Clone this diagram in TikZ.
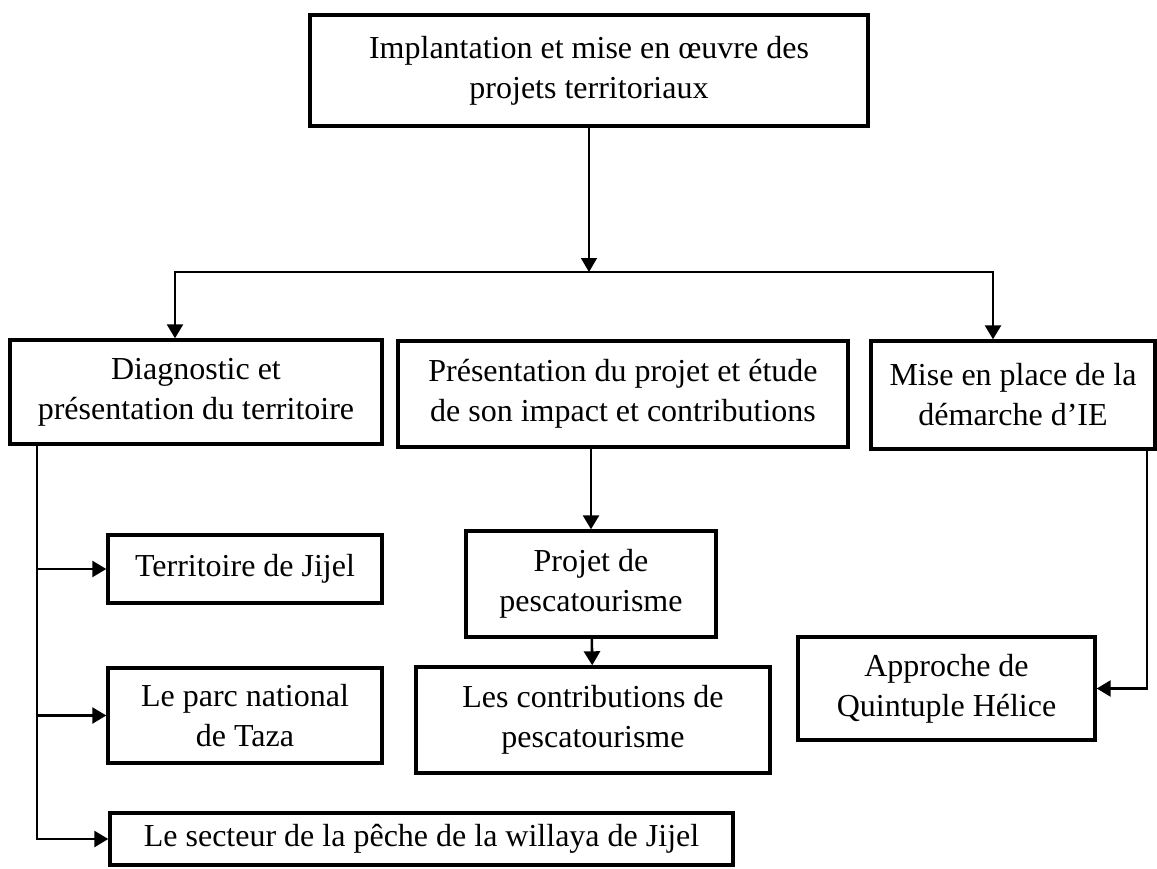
\documentclass[tikz,border=0pt]{standalone}
\usepackage{fontspec}
\setmainfont{Liberation Serif}
\usetikzlibrary{arrows.meta}

\begin{document}
\begin{tikzpicture}[x=1pt,y=-1pt,
    block/.style={draw,line width=3.4pt,align=center,inner sep=0pt,
      font=\fontsize{32}{40}\selectfont},
    conn/.style={line width=2.6pt,-{Triangle[length=14pt,width=16pt]}}]
    \useasboundingbox (0,0) rectangle (1157,868);
    \node[block,minimum width=558pt,minimum height=111pt] (top) at (589,70.5)
      {Implantation et mise en œuvre des\\projets territoriaux};
    \node[block,minimum width=372pt,minimum height=104pt] (diag) at (196,392)
      {Diagnostic et\\présentation du territoire};
    \node[block,minimum width=450pt,minimum height=106pt] (pres) at (623,394)
      {Présentation du projet et étude\\de son impact et contributions};
    \node[block,minimum width=284pt,minimum height=108pt] (ie) at (1013,395)
      {Mise en place de la\\démarche d’IE};
    \node[block,minimum width=274pt,minimum height=68pt] (terr) at (245,569)
      {Territoire de Jijel};
    \node[block,minimum width=274pt,minimum height=95pt] (taza) at (245,715.5)
      {Le parc national\\de Taza};
    \node[block,minimum width=623pt,minimum height=52pt] (sect) at (421.5,839)
      {Le secteur de la pêche de la willaya de Jijel};
    \node[block,minimum width=250pt,minimum height=106pt] (proj) at (591,584)
      {Projet de\\pescatourisme};
    \node[block,minimum width=354pt,minimum height=106pt] (contrib) at (593,720)
      {Les contributions de\\pescatourisme};
    \node[block,minimum width=297pt,minimum height=103pt] (appr) at (946.5,688.5)
      {Approche de\\Quintuple Hélice};
    \coordinate (hub) at (589,272);
    \draw[conn,line width=1.6pt] (top) -- (hub);
    \draw[conn] (hub) -| ([xshift=-21pt]diag.north);
    \draw[conn] (hub) -| ([xshift=-20pt]ie.north);
    \draw[conn] ([xshift=-159pt]diag.south) |- (sect.west);
    \draw[conn] (terr.west -| {(37,0)}) -- (terr.west);
    \draw[conn] (taza.west -| {(37,0)}) -- (taza.west);
    \draw[conn] (pres.south -| proj.north) -- (proj.north);
    \draw[conn] (proj) -- (contrib);
    \draw[conn] ([xshift=134pt]ie.south) |- (appr.east);
\end{tikzpicture}
\end{document}
